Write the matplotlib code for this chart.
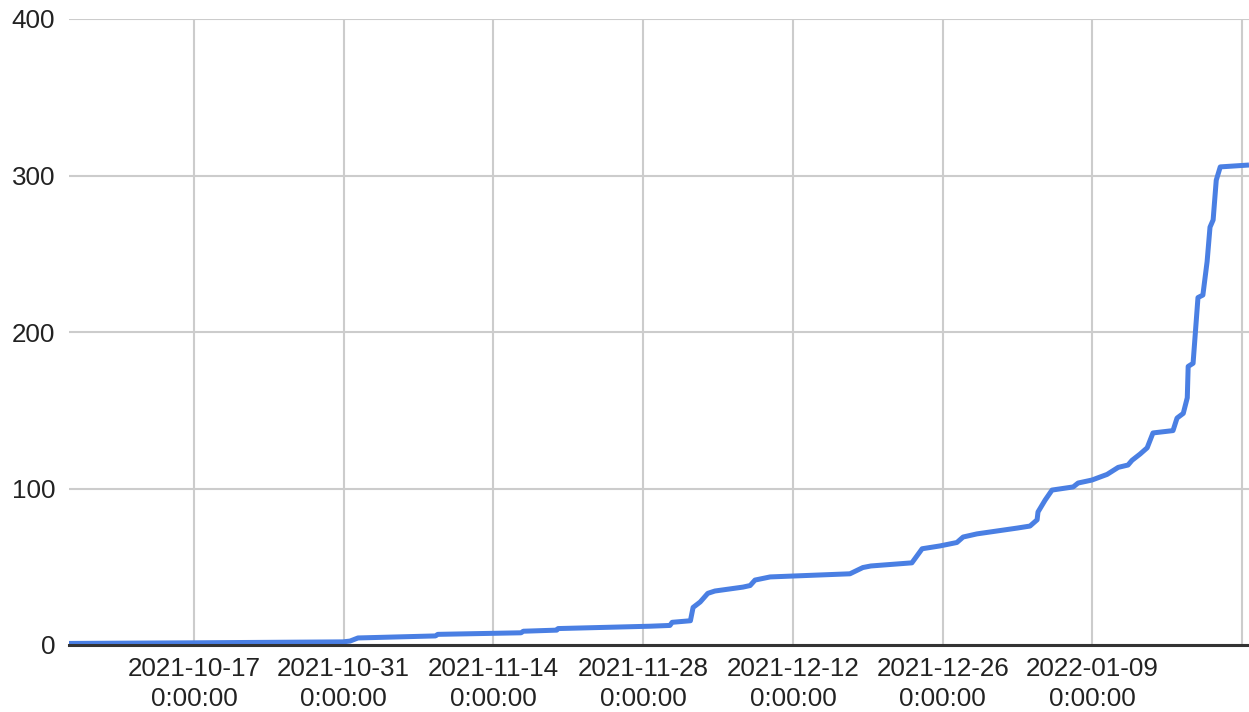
import matplotlib
matplotlib.use("Agg")
import matplotlib.pyplot as plt
import matplotlib.dates as mdates
import pandas as pd

timestamps = [
    "2021-10-05 07:30", "2021-10-17 00:00", "2021-10-30 22:00", "2021-10-31 14:00",
    "2021-11-01 08:00", "2021-11-08 14:00", "2021-11-08 19:00", "2021-11-16 14:00",
    "2021-11-16 19:00", "2021-11-19 22:00", "2021-11-20 01:00", "2021-11-28 15:00",
    "2021-11-30 12:00", "2021-11-30 17:00", "2021-12-02 10:00", "2021-12-02 16:00",
    "2021-12-03 08:00", "2021-12-04 01:00", "2021-12-04 17:00", "2021-12-07 08:00",
    "2021-12-08 00:00", "2021-12-08 11:00", "2021-12-09 21:00", "2021-12-17 08:00",
    "2021-12-18 13:00", "2021-12-19 07:00", "2021-12-23 03:00", "2021-12-24 02:00",
    "2021-12-25 18:00", "2021-12-27 08:00", "2021-12-27 22:00", "2021-12-29 05:00",
    "2022-01-01 23:00", "2022-01-03 04:00", "2022-01-03 20:00", "2022-01-03 22:00",
    "2022-01-04 14:00", "2022-01-05 05:30", "2022-01-07 05:00", "2022-01-07 16:00",
    "2022-01-08 23:00", "2022-01-10 09:00", "2022-01-11 10:00", "2022-01-12 08:00",
    "2022-01-12 17:00", "2022-01-13 11:00", "2022-01-14 03:00", "2022-01-14 16:00",
    "2022-01-16 13:00", "2022-01-16 22:00", "2022-01-17 12:00", "2022-01-17 21:00",
    "2022-01-17 23:00", "2022-01-18 10:00", "2022-01-18 21:00", "2022-01-19 08:00",
    "2022-01-19 17:30", "2022-01-20 00:00", "2022-01-20 07:00", "2022-01-20 14:00",
    "2022-01-20 23:00", "2022-01-23 15:30",
]
values = [
    1.0, 1.4, 2.0, 2.5,
    4.5, 5.8, 6.8, 7.8,
    8.8, 9.5, 10.5, 12.0,
    12.5, 14.5, 15.5, 24.0,
    27.5, 33.0, 34.5, 37.0,
    38.0, 41.5, 43.5, 45.5,
    49.5, 50.5, 52.5, 61.5,
    63.3, 65.5, 69.0, 71.0,
    74.7, 76.0, 80.0, 85.0,
    92.6, 99.0, 101.0, 103.5,
    105.4, 109.0, 113.5, 115.0,
    118.0, 122.0, 126.0, 135.5,
    137.0, 145.0, 148.0, 158.0,
    178.0, 180.0, 222.0, 223.6,
    245.0, 267.0, 271.6, 297.0,
    305.5, 306.7,
]
tick_dates = ["2021-10-17", "2021-10-31", "2021-11-14", "2021-11-28",
              "2021-12-12", "2021-12-26", "2022-01-09", "2022-01-23"]
tick_labels = ["2021-10-17\n0:00:00", "2021-10-31\n0:00:00", "2021-11-14\n0:00:00",
               "2021-11-28\n0:00:00", "2021-12-12\n0:00:00", "2021-12-26\n0:00:00",
               "2022-01-09\n0:00:00", ""]
y_ticks = [0, 100, 200, 300, 400]

plt.rcParams['font.family'] = ['Liberation Sans', 'DejaVu Sans']

x = pd.to_datetime(timestamps)
fig = plt.figure(figsize=(12.49, 7.12), dpi=100)
ax = fig.add_axes([69/1249, 1 - 645/712, 1 - 69/1249, (645 - 19)/712])

ax.plot(x, values, color='#4a7fe3', lw=3.6, solid_capstyle='butt',
        solid_joinstyle='round', zorder=3, clip_on=True)

ax.set_xlim(pd.Timestamp("2021-10-05 07:30"), pd.Timestamp("2022-01-23 15:30"))
ax.set_ylim(0, 400)
ax.set_xticks(pd.to_datetime(tick_dates))
ax.set_xticklabels(tick_labels, fontsize=18.7, linespacing=1.3, color='#222222')
ax.set_yticks(y_ticks)
ax.set_yticklabels([str(v) for v in y_ticks], fontsize=18.7, color='#222222')
ax.tick_params(axis='x', length=0, pad=9)
ax.tick_params(axis='y', length=0, pad=10)

ax.grid(True, color='#cccccc', lw=1.5, zorder=0)
for s in ['left', 'top', 'right']:
    ax.spines[s].set_visible(False)
ax.spines['bottom'].set_color('#333333')
ax.spines['bottom'].set_linewidth(2.2)
ax.spines['bottom'].set_zorder(4)

fig.savefig("out.png", dpi=100)
